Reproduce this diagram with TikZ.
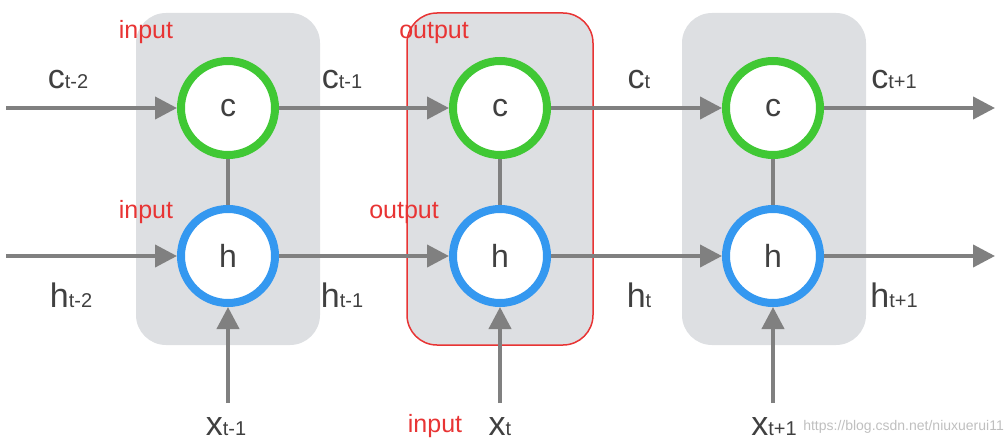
\documentclass[tikz,border=0pt]{standalone}
\usepackage{fontspec}
\setmainfont{Liberation Sans}
\usetikzlibrary{arrows.meta}
\definecolor{cellgray}{RGB}{221,223,226}
\definecolor{cgreen}{RGB}{64,200,52}
\definecolor{hblue}{RGB}{52,152,240}
\definecolor{flowgray}{RGB}{128,128,128}
\definecolor{notered}{RGB}{232,52,52}
\newcommand{\seqlab}[2]{{\fontsize{34}{34}\selectfont #1}{\fontsize{20}{20}\selectfont #2}}

\begin{document}
\begin{tikzpicture}
[
    x=1pt, y=-1pt,
    cellbox/.style={fill=cellgray, rounded corners=30pt, minimum width=184pt, minimum height=332pt, inner sep=0pt},
    statenode/.style={circle, fill=white, line width=8pt, minimum size=94pt, inner sep=0pt, text=black!75, font=\fontsize{32}{32}\selectfont},
    cnode/.style={statenode, draw=cgreen},
    hnode/.style={statenode, draw=hblue},
    flow/.style={draw=flowgray, line width=4pt, -{Triangle[length=22pt,width=22pt]}},
    link/.style={draw=flowgray, line width=4pt},
    seqlabel/.style={anchor=base, text=black!75, inner sep=0pt},
    gatelabel/.style={anchor=base, text=notered, font=\fontsize{25}{25}\selectfont, inner sep=0pt},
]
\useasboundingbox (0,0) rectangle (1008,444);

% cells
\node [cellbox] (box1) at (228,179) {};
\node [cellbox, draw=notered, line width=1.5pt, minimum width=186pt] (box2) at (500,179) {};
\node [cellbox] (box3) at (774,179) {};

% states
\foreach \i/\x in {1/228,2/500,3/773}
{
    \node [cnode] (c\i) at (\x,108) {c};
    \node [hnode] (h\i) at (\x,256) {h};
    \coordinate (x\i) at (\x,403);
    \draw [link] (c\i) -- (h\i);
    \draw [flow] (x\i) -- (h\i);
}
\coordinate (cin) at (6,108);
\coordinate (cout) at (995,108);
\coordinate (hin) at (6,256);
\coordinate (hout) at (995,256);

\draw [flow] (cin) -- (c1);
\draw [flow] (c1) -- (c2);
\draw [flow] (c2) -- (c3);
\draw [flow] (c3) -- (cout);
\draw [flow] (hin) -- (h1);
\draw [flow] (h1) -- (h2);
\draw [flow] (h2) -- (h3);
\draw [flow] (h3) -- (hout);

% sequence labels
\node [seqlabel] (lc0) at (68,88) {\seqlab{c}{t-2}};
\node [seqlabel] (lc1) at (342,88) {\seqlab{c}{t-1}};
\node [seqlabel] (lc2) at (639,88) {\seqlab{c}{t}};
\node [seqlabel] (lc3) at (894,88) {\seqlab{c}{t+1}};
\node [seqlabel] (lh0) at (71,307) {\seqlab{h}{t-2}};
\node [seqlabel] (lh1) at (342,307) {\seqlab{h}{t-1}};
\node [seqlabel] (lh2) at (639,307) {\seqlab{h}{t}};
\node [seqlabel] (lh3) at (894,307) {\seqlab{h}{t+1}};
\node [seqlabel] (lx1) at (226,435) {\seqlab{x}{t-1}};
\node [seqlabel] (lx2) at (500,435) {\seqlab{x}{t}};
\node [seqlabel] (lx3) at (774,435) {\seqlab{x}{t+1}};

% gate labels
\node [gatelabel] (gin1) at (146,38) {input};
\node [gatelabel] (gout1) at (434,38) {output};
\node [gatelabel] (gin2) at (146,218) {input};
\node [gatelabel] (gout2) at (404,218) {output};
\node [gatelabel] (gin3) at (435,432) {input};

\node [anchor=base east, text=black!25, font=\fontsize{14}{14}\selectfont, inner sep=0pt] (mark) at (1004,430) {https://blog.csdn.net/niuxuerui11};
\end{tikzpicture}
\end{document}
